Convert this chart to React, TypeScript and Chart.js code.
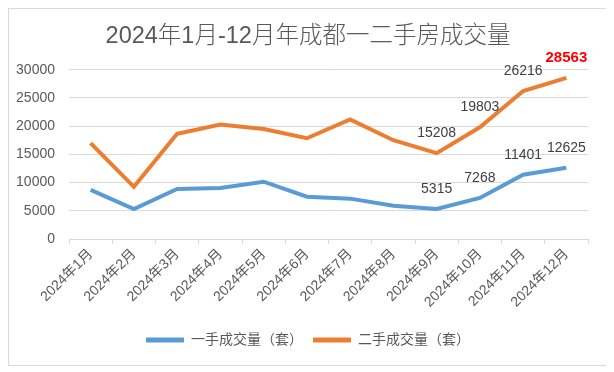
import React, { useEffect, useRef } from "react";
import { Chart, registerables } from "chart.js";

Chart.register(...registerables);

const TITLE = "2024年1月-12月年成都一二手房成交量";
const categories = [
  "2024年1月", "2024年2月", "2024年3月", "2024年4月", "2024年5月", "2024年6月",
  "2024年7月", "2024年8月", "2024年9月", "2024年10月", "2024年11月", "2024年12月",
];
const seriesNames = ["一手成交量（套）", "二手成交量（套）"];
const newHomeSales = [8700, 5300, 8850, 9050, 10150, 7500, 7150, 5900, 5315, 7268, 11401, 12625];
const resaleSales = [17000, 9250, 18650, 20300, 19500, 17850, 21200, 17500, 15208, 19803, 26216, 28563];
const labeledMonths = [false, false, false, false, false, false, false, false, true, true, true, true];
const yTicks = { min: 0, max: 30000, step: 5000 };

const FONT = '"Liberation Sans", "Noto Sans CJK SC", sans-serif';

const pointLabelPlugin = {
  id: "pointLabels",
  afterDatasetsDraw(chart: any) {
    const ctx = chart.ctx;
    chart.data.datasets.forEach((ds: any, di: number) => {
      const meta = chart.getDatasetMeta(di);
      meta.data.forEach((pt: any, i: number) => {
        if (!labeledMonths[i]) return;
        const v = ds.data[i];
        const isMax = di === 1 && i === ds.data.length - 1;
        ctx.save();
        ctx.font = isMax ? `bold 15px ${FONT}` : `14px ${FONT}`;
        ctx.fillStyle = isMax ? "#ff0000" : "#404040";
        ctx.textAlign = "center";
        ctx.textBaseline = "middle";
        ctx.fillText(String(v), pt.x, pt.y - 20);
        ctx.restore();
      });
    });
  },
};

export default function App() {
  const ref = useRef<HTMLCanvasElement>(null);
  useEffect(() => {
    if (!ref.current) return;
    Chart.defaults.font.family = FONT;
    const chart = new Chart(ref.current, {
      type: "line",
      data: {
        labels: categories,
        datasets: [
          {
            label: seriesNames[0],
            data: newHomeSales,
            borderColor: "#5b9bd5",
            backgroundColor: "#5b9bd5",
            borderWidth: 4,
            pointRadius: 0,
            tension: 0,
          },
          {
            label: seriesNames[1],
            data: resaleSales,
            borderColor: "#ed7d31",
            backgroundColor: "#ed7d31",
            borderWidth: 4,
            pointRadius: 0,
            tension: 0,
          },
        ],
      },
      options: {
        responsive: false,
        animation: false,
        devicePixelRatio: 1,
        layout: { padding: { top: 0, left: 0, right: 0, bottom: 8 } },
        plugins: {
          title: {
            display: true,
            text: TITLE,
            color: "#595959",
            font: { size: 23.5, weight: 300, family: FONT },
            padding: { top: 13.6, bottom: 18.9 },
          },
          legend: {
            position: "bottom",
            labels: {
              boxWidth: 38,
              boxHeight: 5,
              color: "#595959",
              font: { size: 14, family: FONT },
              padding: 10,
              generateLabels: (chart: any) =>
                Chart.defaults.plugins.legend.labels
                  .generateLabels(chart)
                  .map((l: any) => ({ ...l, lineWidth: 0 })),
            },
          },
          tooltip: { enabled: false },
        },
        scales: {
          x: {
            offset: true,
            grid: {
              offset: true,
              drawOnChartArea: false,
              drawTicks: true,
              tickLength: 5,
              color: "#d9d9d9",
            },
            border: { color: "#d9d9d9" },
            ticks: {
              minRotation: 45,
              maxRotation: 45,
              autoSkip: false,
              color: "#595959",
              font: { size: 14, family: FONT },
              padding: 2,
            },
            afterFit: (s: any) => {
              s.height = 84;
            },
          },
          y: {
            min: yTicks.min,
            max: yTicks.max,
            ticks: {
              stepSize: yTicks.step,
              color: "#595959",
              font: { size: 14, family: FONT },
              padding: 14,
              callback: (v: any) => String(v),
            },
            grid: { color: "#d9d9d9", drawTicks: false },
            border: { display: false },
            afterFit: (s: any) => {
              s.width = 60;
            },
          },
          spacer: {
            type: "linear",
            position: "right",
            display: true,
            ticks: { display: false },
            grid: { display: false },
            border: { display: false },
            afterFit: (s: any) => {
              s.width = 19;
            },
          },
        },
      },
      plugins: [pointLabelPlugin],
    });
    return () => chart.destroy();
  }, []);
  return (
    <div style={{ width: 598, height: 356, border: "1px solid #d9d9d9", background: "#fff" }}>
      <canvas ref={ref} width={598} height={356} />
    </div>
  );
}
